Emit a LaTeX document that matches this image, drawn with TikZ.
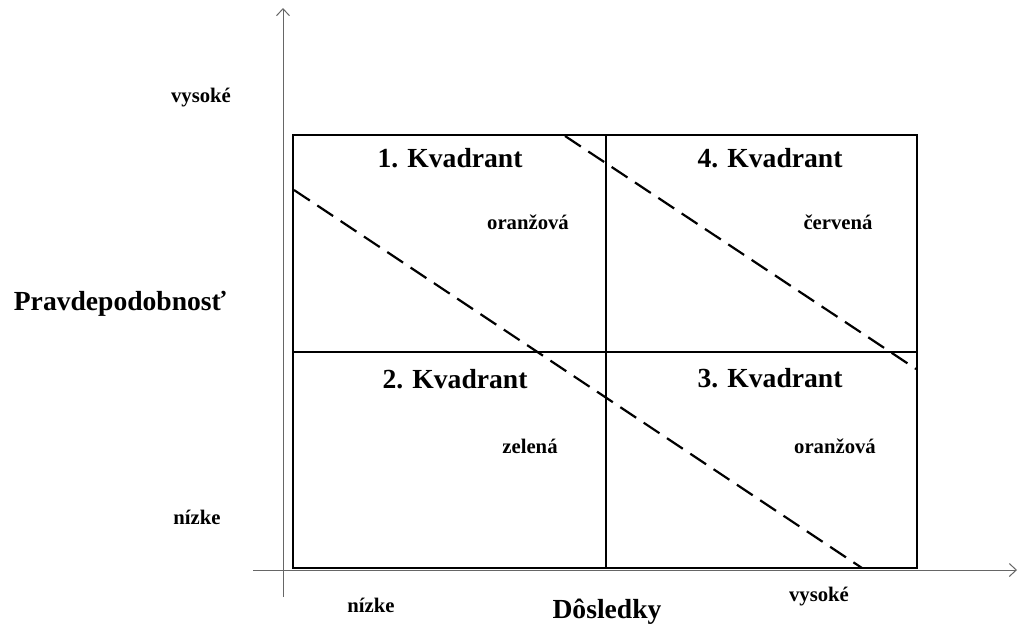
\documentclass[tikz,border=0pt]{standalone}
\usepackage{fontspec}
\setmainfont{Liberation Serif}
\usetikzlibrary{arrows.meta}
\begin{document}
\begin{tikzpicture}[x=1pt,y=-1pt,
  axis/.style={draw=black!60, line width=1pt, -{Straight Barb[length=7pt,width=13pt]}},
  frame/.style={draw=black, line width=2.4pt},
  quad/.style={font=\bfseries\fontsize{27.6}{30}\selectfont, inner sep=0pt},
  lab/.style={font=\bfseries\fontsize{20.7}{23}\selectfont, inner sep=0pt},
  big/.style={font=\bfseries\fontsize{27.6}{31}\selectfont, inner sep=0pt},
  split/.style={draw=black, line width=2.2pt, dash pattern=on 19pt off 9pt}]
\useasboundingbox (0,0) rectangle (1020,630);
% axes
\coordinate (yb) at (283,597);
\coordinate (yt) at (283,8);
\coordinate (xl) at (253,570);
\coordinate (xr) at (1017,570);
\draw[axis] (yb) -- (yt);
\draw[axis] (xl) -- (xr);
% frame
\coordinate (tl) at (293,135);
\coordinate (br) at (917,568);
\coordinate (mt) at (606,135);
\coordinate (mb) at (606,568);
\coordinate (ml) at (293,352);
\coordinate (mr) at (917,352);
\draw[frame] (tl) rectangle (br);
\draw[frame] (mt) -- (mb);
\draw[frame] (ml) -- (mr);
% dashed lines
\coordinate (d1a) at (294,190);
\coordinate (d1b) at (862,568);
\coordinate (d2a) at (565,136);
\coordinate (d2b) at (916,369);
\draw[split] (d1a) -- (d1b);
\draw[split] (d2a) -- (d2b);
% quadrant titles
\node[quad] (q1) at (450,158) {1. Kvadrant};
\node[quad] (q4) at (770,158) {4. Kvadrant};
\node[quad] (q2) at (455,379) {2. Kvadrant};
\node[quad] (q3) at (770,378) {3. Kvadrant};
% colours
\node[lab] (c1) at (528,222) {oranžová};
\node[lab] (c4) at (838,222) {červená};
\node[lab] (c2) at (530,446) {zelená};
\node[lab] (c3) at (835,446) {oranžová};
% axis labels
\node[lab] (yh) at (201,98) {vysoké};
\node[lab] (yl) at (197,517) {nízke};
\node[big] (yn) at (120,304) {Pravdepodobnosť};
\node[lab] (xlo) at (371,605) {nízke};
\node[lab] (xhi) at (819,597) {vysoké};
\node[big] (xn) at (607,612) {Dôsledky};
\end{tikzpicture}
\end{document}
